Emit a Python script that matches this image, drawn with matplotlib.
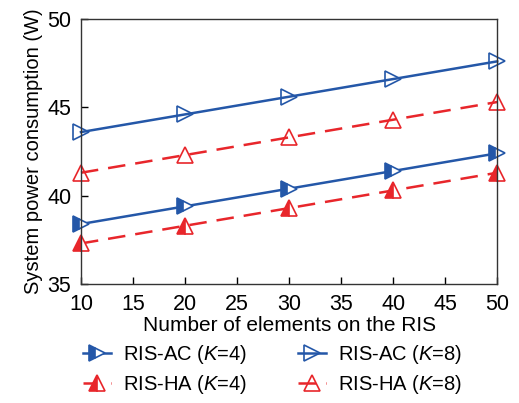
import matplotlib
matplotlib.use('Agg')
import matplotlib.pyplot as plt

plt.rcParams['font.family'] = ['Liberation Sans', 'DejaVu Sans']
plt.rcParams['mathtext.fontset'] = 'custom'
plt.rcParams['mathtext.it'] = 'Liberation Sans:italic'
plt.rcParams['mathtext.rm'] = 'Liberation Sans'

# Data
n_elements = [10, 20, 30, 40, 50]
ac_k4 = [38.4, 39.4, 40.4, 41.4, 42.4]
ac_k8 = [43.6, 44.6, 45.6, 46.6, 47.6]
ha_k4 = [37.3, 38.3, 39.3, 40.3, 41.3]
ha_k8 = [41.3, 42.3, 43.3, 44.3, 45.3]

blue = '#2457a8'
red = '#e8262b'

fig = plt.figure(figsize=(5.19, 4.03), dpi=100)
ax = fig.add_axes([0.156, 0.295, 0.802, 0.658])

ax.plot(n_elements, ac_k4, color=blue, lw=1.8, marker='>', ms=12,
        fillstyle='left', markerfacecoloralt='white', mew=1.2,
        label='RIS-AC ($K$=4)', clip_on=False)
ax.plot(n_elements, ac_k8, color=blue, lw=1.8, marker='>', ms=12,
        mfc='none', mew=1.2, label='RIS-AC ($K$=8)', clip_on=False)
ax.plot(n_elements, ha_k4, color=red, lw=1.8, ls=(0, (7, 4)), marker='^', ms=12,
        fillstyle='left', markerfacecoloralt='white', mew=1.2,
        label='RIS-HA ($K$=4)', clip_on=False)
ax.plot(n_elements, ha_k8, color=red, lw=1.8, ls=(0, (7, 4)), marker='^', ms=12,
        mfc='none', mew=1.2, label='RIS-HA ($K$=8)', clip_on=False)

ax.set_xlim(10, 50)
ax.set_ylim(35, 50)
ax.set_xticks([10, 15, 20, 25, 30, 35, 40, 45, 50])
ax.set_yticks([35, 40, 45, 50])
ax.tick_params(direction='in', labelsize=15.5, length=5, width=1, pad=7)
for s in ax.spines.values():
    s.set_linewidth(1.0)
    s.set_color('#333333')
ax.set_xlabel('Number of elements on the RIS', fontsize=15, labelpad=1)
ax.set_ylabel('System power consumption (W)', fontsize=14.5, labelpad=3)

handles, labels = ax.get_legend_handles_labels()
order = [0, 2, 1, 3]
ax.legend([handles[i] for i in order], [labels[i] for i in order],
          ncol=2, frameon=False, fontsize=14.5, loc='upper left',
          bbox_to_anchor=(-0.015, -0.19), handlelength=1.4, columnspacing=2.5,
          labelspacing=0.35, handletextpad=0.6, borderaxespad=0)

fig.savefig('out.png', dpi=100)
